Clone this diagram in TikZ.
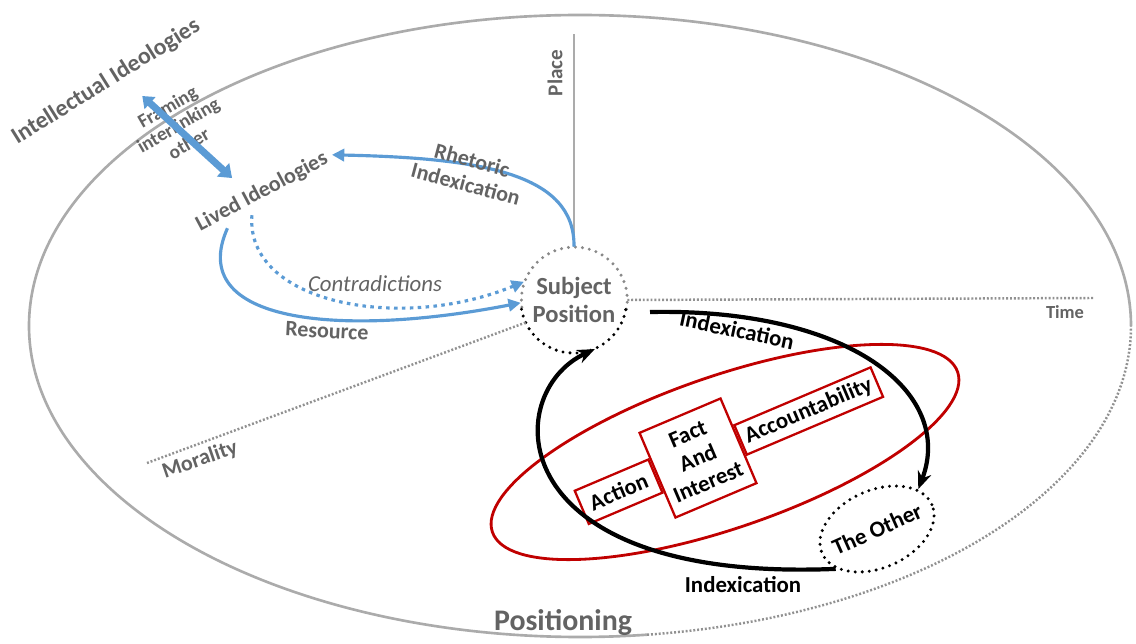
\documentclass[tikz,border=0pt]{standalone}
\usepackage{fontspec}
\setmainfont{Carlito}
\definecolor{flowBlue}{HTML}{5B9BD5}
\definecolor{frameRed}{HTML}{C00000}
\definecolor{axisGrey}{HTML}{ABABAB}
\definecolor{textGrey}{HTML}{636363}
\usetikzlibrary{arrows.meta, positioning, calc, shapes.geometric}

\begin{document}
\begin{tikzpicture}[
    x=0.02cm, y=0.02cm,
    axis/.style={axisGrey, line width=1.1pt},
    dotaxis/.style={axisGrey!85!black, line width=1.4pt, dash pattern=on 1.1pt off 1.1pt},
    ring/.style={line width=1.9pt, line cap=round, dash pattern=on 0pt off 4pt},
    loop/.style={-{Stealth[length=10pt, width=8pt]}, line width=2.4pt},
    flow/.style={-{Triangle[length=7pt, width=7pt]}, flowBlue, line width=1.8pt},
    bigflow/.style={{Triangle[length=6pt, width=9pt]}-{Triangle[length=7pt, width=10pt]}, flowBlue, line width=4pt},
    box/.style={rectangle, draw=frameRed, line width=1.3pt, align=center, inner sep=1pt, rotate=23,
                font=\bfseries\fontsize{13}{15}\selectfont},
    tag/.style={font=\bfseries\fontsize{12.5}{14}\selectfont, text=textGrey, align=center},
    lbl/.style={font=\bfseries\fontsize{13}{15}\selectfont}
  ]
    \useasboundingbox (0,0) rectangle (1136,643);
    % outer ellipse, dotted at the lower right
    \draw[axis, line width=1.5pt] (1131,317) arc[start angle=0, end angle=277, x radius=551, y radius=311];
    \draw[dotaxis] (647.15,8.32) arc[start angle=277, end angle=360, x radius=551, y radius=311];
    \node[tag, font=\bfseries\fontsize{17}{19}\selectfont] (positioning) at (563,20) {Positioning};

    % subject position
    \node[tag, circle, minimum size=2.12cm, inner sep=0pt, font=\bfseries\fontsize{14}{15.5}\selectfont] (sp) at (574,343) {Subject\\Position};
    \draw[ring, axisGrey!80!black] (sp.-10) arc[start angle=-10, end angle=190, radius=1.06cm];
    \draw[ring] (sp.190) arc[start angle=190, end angle=350, radius=1.06cm];

    % axes
    \coordinate (placeTop) at (574,609);
    \coordinate (timeEnd) at (1093,345);
    \coordinate (moralEnd) at (147,180);
    \draw[axis] (sp.north) -- (placeTop);
    \draw[dotaxis] (sp.east) -- (timeEnd);
    \draw[dotaxis] (sp.205) -- (moralEnd);
    \node[tag, rotate=90, font=\bfseries\fontsize{12}{14}\selectfont] (place) at (555,570) {Place};
    \node[tag, font=\bfseries\fontsize{10.5}{12}\selectfont] (time) at (1065,331) {Time};
    \node[tag, rotate=19] (morality) at (200,183) {Morality};

    % ideologies
    \node[tag, rotate=32, font=\bfseries\fontsize{13.5}{15}\selectfont] (intel) at (106,561) {Intellectual Ideologies};
    \node[tag, rotate=28] (lived) at (262,451) {Lived Ideologies};
    \node[tag, rotate=30, font=\bfseries\fontsize{11}{12}\selectfont] (framing) at (178,518) {Framing\\interlinking\\other};
    \draw[bigflow] ([xshift=0.55cm]intel.south) -- ([xshift=-0.45cm]lived.north);

    % blue flows
    \draw[flow] (sp.north) .. controls (575,470) and (480,485) .. (lived.east);
    \node[tag, rotate=-15] (rhetoric) at (469,471) {Rhetoric\\Indexication};
    \draw[flow] ($(lived.south west)!0.4!(lived.south)$) .. controls (185,320) and (340,305) .. (sp.183);
    \node[tag, rotate=-3] (resource) at (327,312) {Resource};
    \draw[flow, dash pattern=on 2pt off 2.5pt] ($(lived.south west)!0.75!(lived.south)$) .. controls (245,340) and (400,310) .. (sp.160);
    \node[tag, font=\itshape\fontsize{13}{15}\selectfont] (contra) at (375,359) {Contradictions};

    % red frame
    \draw[frameRed, line width=1.6pt, rotate around={19:(725,191)}] (725,191) ellipse[x radius=246, y radius=76];
    \node[box, minimum width=1.76cm, minimum height=1.84cm] (fact) at (698,185) {Fact\\And\\Interest};
    \node[box, minimum width=1.6cm, minimum height=0.72cm, left=0pt of fact] (action) {Action};
    \node[box, minimum width=2.96cm, minimum height=0.64cm, right=0pt of fact] (account) {Accountability};

    % the other
    \node[ellipse, draw, ring, rotate=24, minimum width=2.16cm, minimum height=1.55cm, inner sep=-3pt, lbl] (other) at (877,114) {The Other};

    % indexication loop
    \coordinate (idxStart) at (650,331);
    \draw[loop] (idxStart) .. controls (850,335) and (955,250) .. (other.20);
    \node[lbl, rotate=-12] (idxTop) at (737,313) {Indexication};
    \draw[loop] (other.200) .. controls (500,60) and (500,250) .. (sp.-67);
    \node[lbl] (idxBottom) at (743,58) {Indexication};
\end{tikzpicture}
\end{document}
